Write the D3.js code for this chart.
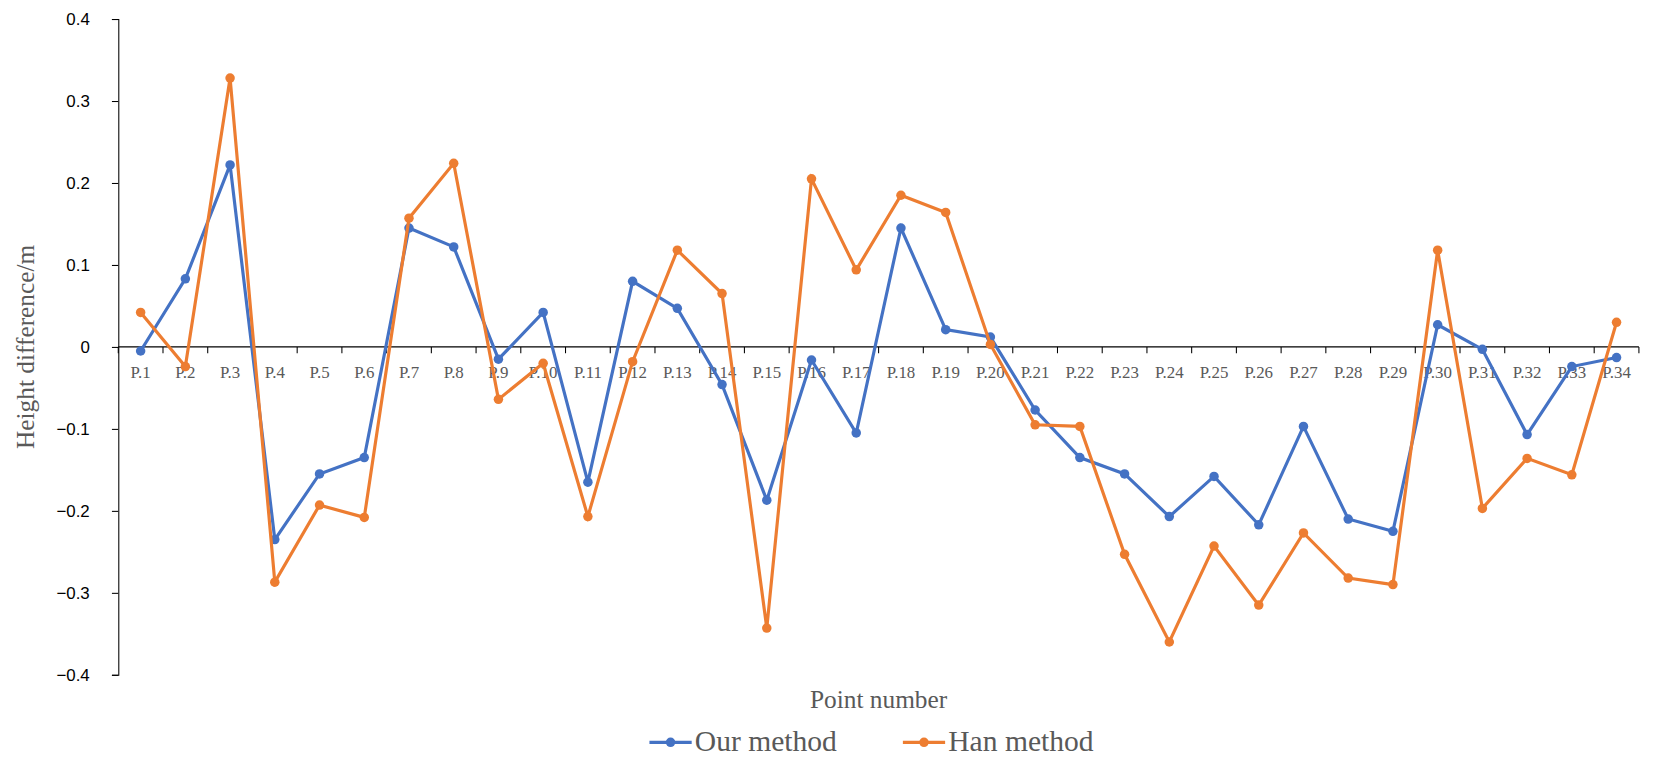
<!DOCTYPE html>
<html><head><meta charset="utf-8">
<script src="https://cdn.jsdelivr.net/npm/d3@7"></script>
<style>body{margin:0;background:#fff}</style></head>
<body><svg id="c" width="1656" height="772"></svg>
<script>
const categories = d3.range(1,35).map(i=>"P."+i);
const ourMethod = [-0.005,0.083,0.222,-0.235,-0.155,-0.135,0.145,0.122,-0.015,0.042,-0.165,0.08,0.047,-0.046,-0.187,-0.016,-0.105,0.145,0.021,0.012,-0.077,-0.135,-0.155,-0.207,-0.158,-0.217,-0.097,-0.21,-0.225,0.027,-0.003,-0.107,-0.024,-0.013];
const hanMethod = [0.042,-0.024,0.328,-0.287,-0.193,-0.208,0.157,0.224,-0.064,-0.02,-0.207,-0.018,0.118,0.065,-0.343,0.205,0.094,0.185,0.164,0.003,-0.095,-0.097,-0.253,-0.36,-0.243,-0.315,-0.227,-0.282,-0.29,0.118,-0.197,-0.136,-0.156,0.03];
const yTicks = [0.4,0.3,0.2,0.1,0,-0.1,-0.2,-0.3,-0.4];
const series = [{name:"Our method",values:ourMethod,color:"#4472C4"},{name:"Han method",values:hanMethod,color:"#ED7D31"}];

const svg = d3.select("#c").append("g").attr("transform","scale(1.056)");
const L=112,R=1552,T=18,B=639;
const x = d3.scaleBand().domain(categories).range([L,R]);
const y = d3.scaleLinear().domain([-0.4,0.4]).range([B,T]);

const ya = svg.append("g").attr("transform",`translate(${L},0)`)
  .call(d3.axisLeft(y).tickValues(yTicks).tickSize(6).tickFormat(d=>d===0?"0":d3.format(".1f")(d)));
ya.select(".domain").attr("stroke","#000");
ya.selectAll(".tick line").attr("stroke","#000");
ya.selectAll("text").attr("font-family","Liberation Sans, Arial").attr("font-size",16).attr("fill","#000").attr("dx",-18);

const xa = svg.append("g").attr("transform",`translate(0,${y(0)})`)
  .call(d3.axisBottom(x).tickSize(0).tickPadding(18));
xa.select(".domain").attr("stroke","#000").attr("d",`M${L},0H${R}`);
xa.selectAll("text").attr("font-family","Liberation Serif, serif").attr("font-size",16).attr("fill","#595959");
xa.selectAll(".sep").data(categories.concat(["end"])).enter().append("line")
  .attr("x1",(d,i)=>L+i*x.step()).attr("x2",(d,i)=>L+i*x.step()).attr("y1",0).attr("y2",6).attr("stroke","#000");

const line = d3.line().x((d,i)=>x(categories[i])+x.bandwidth()/2).y(d=>y(d));
series.forEach(s=>{
  svg.append("path").attr("d",line(s.values)).attr("fill","none").attr("stroke",s.color).attr("stroke-width",3);
  svg.selectAll(null).data(s.values).enter().append("circle")
    .attr("cx",(d,i)=>x(categories[i])+x.bandwidth()/2).attr("cy",d=>y(d)).attr("r",4.5).attr("fill",s.color);
});

svg.append("text").attr("transform",`translate(32,${y(0)}) rotate(-90)`).attr("text-anchor","middle")
  .attr("font-family","Liberation Serif, serif").attr("font-size",24).attr("fill","#595959").text("Height difference/m");
svg.append("text").attr("x",832).attr("y",670).attr("text-anchor","middle")
  .attr("font-family","Liberation Serif, serif").attr("font-size",24).attr("fill","#595959").text("Point number");

const lg = svg.append("g");
const lx=[615,855];
series.forEach((s,i)=>{
  lg.append("line").attr("x1",lx[i]).attr("x2",lx[i]+40).attr("y1",703).attr("y2",703).attr("stroke",s.color).attr("stroke-width",3);
  lg.append("circle").attr("cx",lx[i]+20).attr("cy",703).attr("r",4.5).attr("fill",s.color);
  lg.append("text").attr("x",lx[i]+43).attr("y",711).attr("font-family","Liberation Serif, serif").attr("font-size",28).attr("fill","#595959").text(s.name);
});
</script></body></html>
